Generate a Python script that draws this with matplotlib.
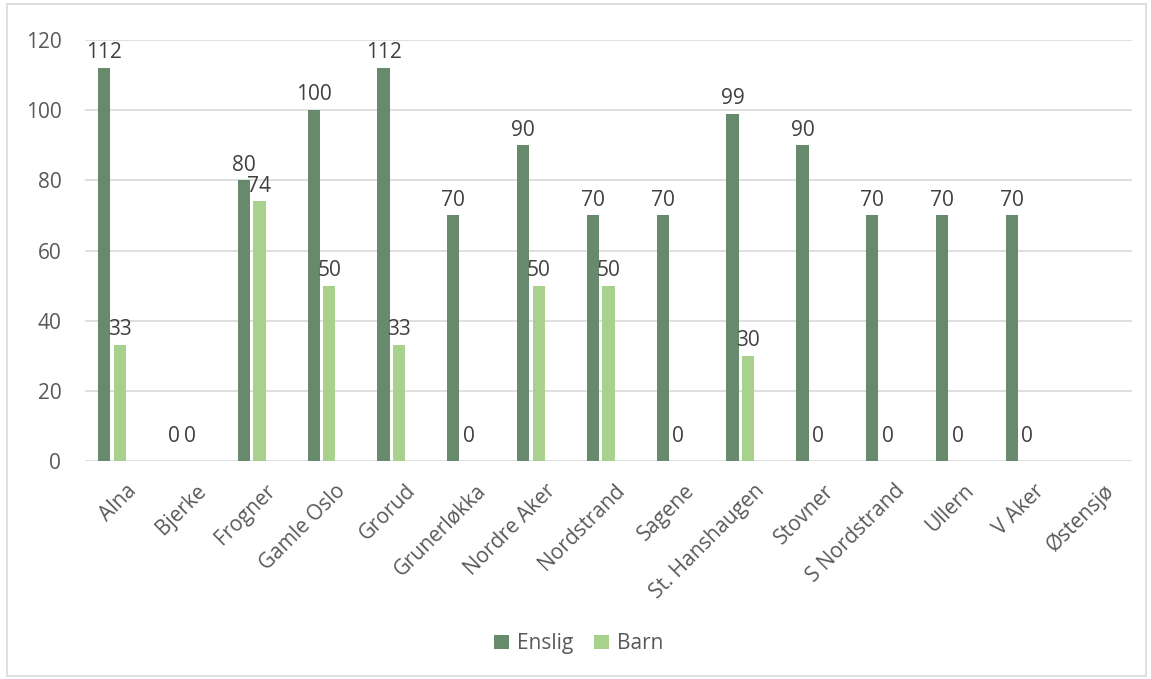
import matplotlib.pyplot as plt
import matplotlib.transforms as mtransforms
import numpy as np
from matplotlib.patches import Rectangle

plt.rcParams["font.family"] = ["Open Sans", "DejaVu Sans"]

# --- Data
districts = [
    "Alna", "Bjerke", "Frogner", "Gamle Oslo", "Grorud", "Grunerløkka",
    "Nordre Aker", "Nordstrand", "Sagene", "St. Hanshaugen", "Stovner",
    "S Nordstrand", "Ullern", "V Aker", "Østensjø",
]
enslig = [112, 0, 80, 100, 112, 70, 90, 70, 70, 99, 90, 70, 70, 70, None]
barn = [33, 0, 74, 50, 33, 0, 50, 50, 0, 30, 0, 0, 0, 0, None]

series = [("Enslig", enslig, "#688A6C"), ("Barn", barn, "#A9D18E")]

fig = plt.figure(figsize=(11.51, 6.79), dpi=100)
ax = fig.add_axes([0.0738, 0.321, 0.9097, 0.620])

x = np.arange(len(districts))
width = 0.175
offsets = [-0.222, 0.0]

for (name, values, color), off in zip(series, offsets):
    vals = np.array([np.nan if v is None else v for v in values], dtype=float)
    ax.bar(x + off, vals, width=width, color=color, label=name, zorder=3)
    for xi, v in zip(x, values):
        if v is None:
            continue
        pad = 11 if v > 0 else 18
        ax.annotate(
            f"{v}", (xi + off, v), xytext=(0, pad), textcoords="offset points",
            ha="center", va="center", fontsize=15, color="#404040",
        )

ax.set_xlim(-0.5, len(districts) - 0.5)
ax.set_ylim(0, 120)
ax.set_yticks(range(0, 121, 20))
ax.yaxis.grid(True, color="#D9D9D9", linewidth=1.2, zorder=0)
ax.set_axisbelow(True)
for s in ax.spines.values():
    s.set_visible(False)
ax.tick_params(axis="both", length=0, labelsize=15, labelcolor="#595959")
ax.tick_params(axis="y", pad=17)

ax.set_xticks(x)
ax.set_xticklabels(districts, rotation=45, ha="right", rotation_mode="anchor")
shift = mtransforms.ScaledTranslation(6 / 100, -4 / 100, fig.dpi_scale_trans)
for lbl in ax.get_xticklabels():
    lbl.set_y(-0.025)
    lbl.set_transform(lbl.get_transform() + shift)

ax.legend(
    loc="center", bbox_to_anchor=(0.503, 0.052), bbox_transform=fig.transFigure,
    ncol=2, frameon=False, fontsize=15, labelcolor="#595959",
    handlelength=0.7, handleheight=0.7, handletextpad=0.4, columnspacing=1.0,
)

# chart area border
fig.patches.append(Rectangle((0.006, 0.004), 0.99, 0.99, transform=fig.transFigure,
                             fill=False, edgecolor="#D9D9D9", linewidth=1.2))

fig.savefig("out.png", dpi=100)
